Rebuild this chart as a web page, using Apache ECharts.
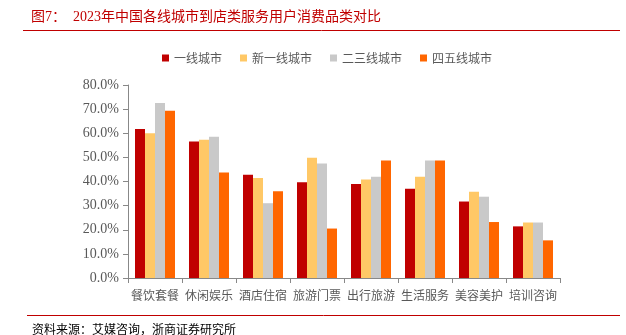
<!DOCTYPE html>
<html><head><meta charset="utf-8">
<script src="https://cdn.jsdelivr.net/npm/echarts@6/dist/echarts.min.js"></script>
<style>html,body{margin:0;padding:0;background:#fff}#c{width:626px;height:335px}</style>
</head><body><div id="c"></div>
<script>
const categories = ['餐饮套餐','休闲娱乐','酒店住宿','旅游门票','出行旅游','生活服务','美容美护','培训咨询'];
const seriesNames = ['一线城市','新一线城市','二三线城市','四五线城市'];
const tier1 = [61.8, 56.6, 42.8, 39.7, 39.0, 37.0, 31.7, 21.4];
const newTier1 = [60.0, 57.3, 41.5, 49.8, 40.8, 42.0, 35.7, 23.0];
const tier23 = [72.5, 58.6, 31.0, 47.5, 42.0, 48.7, 33.7, 23.0];
const tier45 = [69.3, 43.7, 36.0, 20.5, 48.7, 48.7, 23.2, 15.6];
const yTicks = [0, 10, 20, 30, 40, 50, 60, 70, 80];
const colors = ['#C00000', '#FFC866', '#C9C9C9', '#FF6600'];
const values = [tier1, newTier1, tier23, tier45];

const chart = echarts.init(document.getElementById('c'), null, {renderer: 'canvas'});
const serif = '"Liberation Serif","DejaVu Serif",serif';
const cjk = '"Noto Sans CJK SC","Noto Sans",sans-serif';
chart.setOption({
  animation: false,
  title: [
    {text: '图7：  2023年中国各线城市到店类服务用户消费品类对比', left: 26, top: 5,
     textStyle: {color: '#C00000', fontSize: 14, fontWeight: 'normal', fontFamily: '"Liberation Serif","Noto Sans CJK SC",serif'}},
    {text: '资料来源：艾媒咨询，浙商证券研究所', left: 27, top: 318,
     textStyle: {color: '#000', fontSize: 12, fontWeight: 'normal', fontFamily: cjk}}
  ],
  graphic: [
    {type: 'line', shape: {x1: 23, y1: 30.5, x2: 620, y2: 30.5}, style: {stroke: '#C00000', lineWidth: 1}},
    {type: 'line', shape: {x1: 27, y1: 315.5, x2: 620, y2: 315.5}, style: {stroke: '#C00000', lineWidth: 1}}
  ],
  legend: {
    data: seriesNames, top: 47, left: 157, itemWidth: 7, itemHeight: 7, itemGap: 18,
    icon: 'rect',
    textStyle: {color: '#595959', fontSize: 12, fontFamily: cjk}
  },
  grid: {left: 128, right: 66, top: 85, bottom: 57, containLabel: false},
  xAxis: {
    type: 'category', data: categories,
    axisLine: {lineStyle: {color: '#888', width: 1}},
    axisTick: {show: true, alignWithLabel: false, length: 5, lineStyle: {color: '#888'}},
    axisLabel: {interval: 0, color: '#595959', fontSize: 12, margin: 11, fontFamily: cjk}
  },
  yAxis: {
    type: 'value', min: 0, max: 80, interval: 10,
    axisLine: {show: true, lineStyle: {color: '#888', width: 1}},
    axisTick: {show: true, length: 5, lineStyle: {color: '#888'}},
    splitLine: {show: false},
    axisLabel: {color: '#595959', fontSize: 14, margin: 9, fontFamily: serif,
      formatter: v => v.toFixed(1) + '%'}
  },
  series: seriesNames.map((n, i) => ({
    name: n, type: 'bar', data: values[i], barWidth: 10, barGap: '0%',
    itemStyle: {color: colors[i]}
  }))
});
</script></body></html>
